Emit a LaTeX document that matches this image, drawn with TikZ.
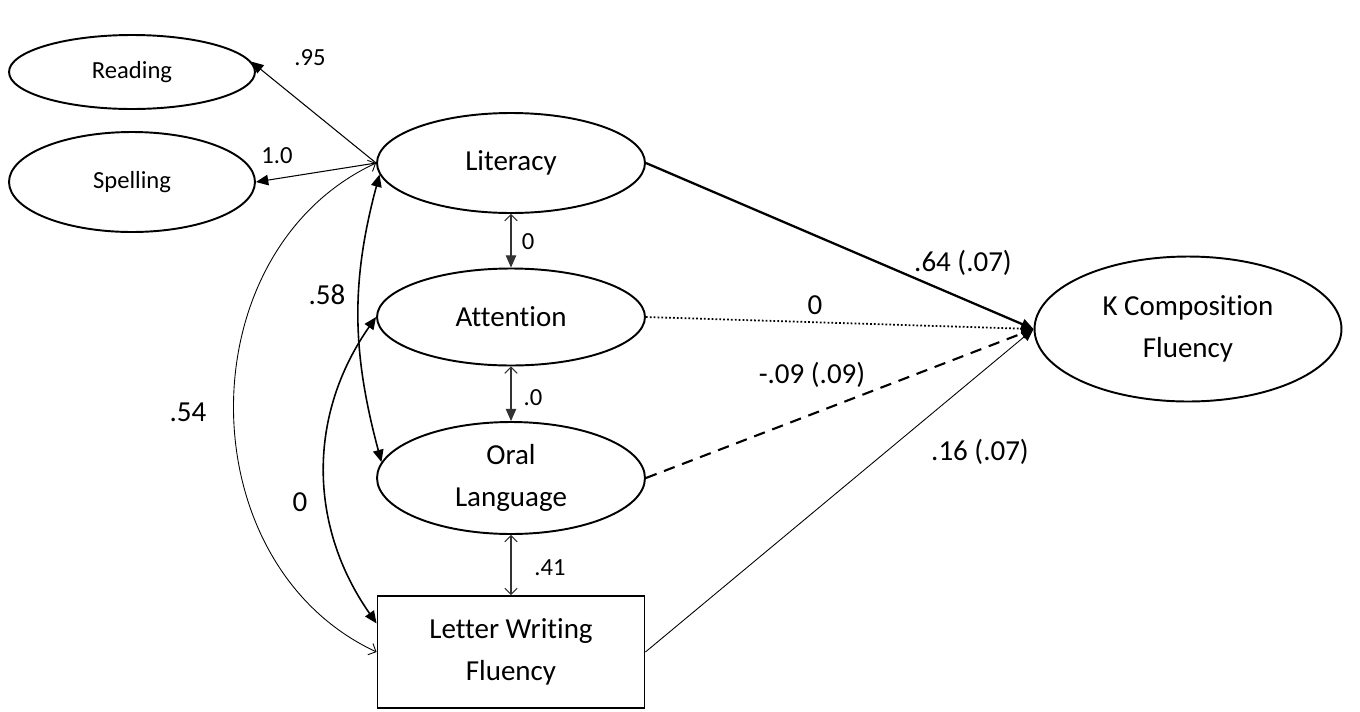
\documentclass[tikz,border=0pt]{standalone}
\usepackage{fontspec}
\setmainfont{Carlito}[Ligatures=NoCommon]
\usetikzlibrary{shapes.geometric,arrows.meta}

\tikzset{
  ft/.tip={Triangle[length=7pt,width=6pt]},
  ot/.tip={Straight Barb[length=3.5pt,width=7pt]},
  latent/.style={ellipse, draw, line width=1.1pt, inner sep=0pt, minimum width=5.36cm, minimum height=2cm, align=center, font=\fontsize{16.5}{24}\selectfont},
  small/.style={font=\fontsize{14}{16}\selectfont},
  big/.style={font=\fontsize{16.5}{20}\selectfont}
}

\begin{document}
\begin{tikzpicture}[x=0.02cm,y=-0.02cm]
    \useasboundingbox (0,0) rectangle (1360,711);

    \node[latent, small, minimum width=4.92cm, minimum height=1.48cm] (read) at (132,72) {Reading};
    \node[latent, small, minimum width=4.92cm, minimum height=2cm] (spell) at (132,182) {Spelling};
    \node[latent] (lit) at (511,163) {Literacy};
    \node[latent, minimum height=1.94cm] (att) at (511,317) {Attention};
    \node[latent, minimum height=2.24cm] (oral) at (511,478) {Oral\\Language};
    \node[draw, line width=1.1pt, minimum width=5.34cm, minimum height=2.24cm, align=center, font=\fontsize{16.5}{24}\selectfont] (lwf) at (511,652) {Letter Writing\\Fluency};
    \node[latent, minimum width=6.14cm, minimum height=2.9cm] (comp) at (1188,329) {K Composition\\Fluency};

%    loadings
    \draw[line width=0.6pt, -ft] (lit.west) -- (read.5);
    \draw[line width=0.6pt, -ft] (lit.west) -- (spell.east);

%    correlations
    \draw[line width=0.6pt, gray!40!black, ot-ft] (lit.south) -- (att.north);
    \draw[line width=0.6pt, gray!40!black, ot-ft] (att.south) -- (oral.north);
    \draw[line width=0.6pt, gray!40!black, ot-ot] (oral.south) -- (lwf.north);
    \draw[line width=0.9pt, ft-ft] (lit.185) to[out=255,in=105] (oral.173);
    \draw[line width=0.9pt, ft-ft] (att.west) to[out=235,in=125] (lwf.168);
    \draw[line width=0.5pt, ot-ot] (lit.west) to[out=205,in=155,looseness=1.1] (lwf.west);

%    paths to composition
    \draw[line width=1.3pt, -ft] (lit.east) -- (comp.west);
    \draw[line width=1pt, dash pattern=on 1pt off 1.2pt, -ft] (att.east) -- (comp.west);
    \draw[line width=1.2pt, dash pattern=on 6.5pt off 4.5pt, -ft] (oral.east) -- (comp.west);
    \draw[line width=0.5pt, -ft] (lwf.east) -- (comp.west);

    \node[small] (lread) at (310,58) {.95};
    \node[small] (lspell) at (277,156) {1.0};
    \node[small] (llitatt) at (528,242) {0};
    \node[small] (lattoral) at (533,398) {.0};
    \node[small] (lorallwf) at (550,568) {.41};
    \node[big] (litoral) at (327,295) {.58};
    \node[big] (llitlwf) at (188,412) {.54};
    \node[big] (lattlwf) at (300,502) {0};
    \node[big] (llitcomp) at (963,263) {.64 (.07)};
    \node[big] (lattcomp) at (815,305) {0};
    \node[big] (loralcomp) at (812,375) {-.09 (.09)};
    \node[big] (llwfcomp) at (980,452) {.16 (.07)};

\end{tikzpicture}
\end{document}
